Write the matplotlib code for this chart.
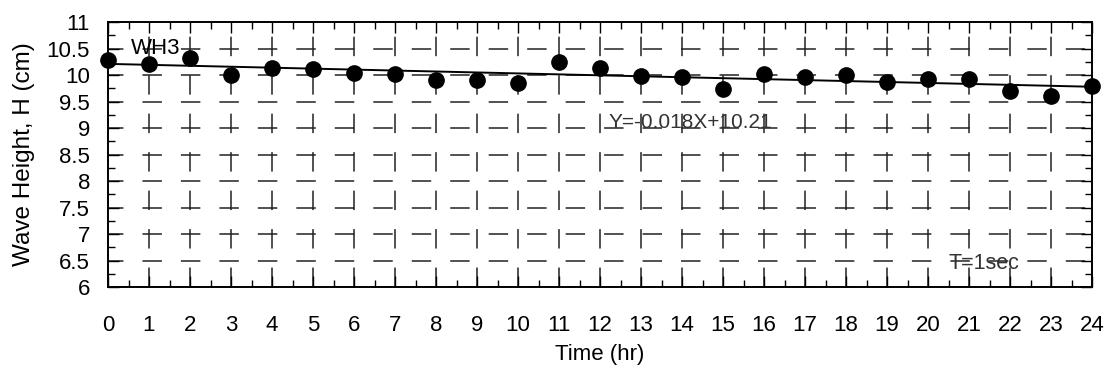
import numpy as np
import matplotlib
matplotlib.use("Agg")
import matplotlib.pyplot as plt
from matplotlib.ticker import MultipleLocator

plt.rcParams['font.family'] = ['Liberation Sans', 'DejaVu Sans']
plt.rcParams['lines.scale_dashes'] = False

# hourly wave height readings (cm)
hours = list(range(25))
height = [10.28, 10.20, 10.33, 10.00, 10.13, 10.11, 10.03, 10.02, 9.91, 9.91,
          9.84, 10.25, 10.13, 9.98, 9.96, 9.73, 10.02, 9.96, 10.00, 9.86,
          9.92, 9.92, 9.70, 9.60, 9.80]

# trend line coefficients
slope = -0.018
intercept = 10.21

fig = plt.figure(figsize=(11.16, 3.72), dpi=100)
ax = fig.add_axes([108 / 1116, 1 - 287 / 372, (1092 - 108) / 1116, (287 - 22) / 372])

x = np.array(hours)
ax.plot(x, slope * x + intercept, color='black', lw=1.4, zorder=3)
ax.plot(hours, height, 'o', color='black', ms=11, clip_on=False, zorder=4)

ax.set_xlim(0, 24)
ax.set_ylim(6, 11)
ax.xaxis.set_major_locator(MultipleLocator(1))
ax.xaxis.set_minor_locator(MultipleLocator(0.5))
ax.yaxis.set_minor_locator(MultipleLocator(0.25))
ax.set_yticks(np.arange(6, 11.01, 0.5))
ax.set_yticklabels(['6', '6.5', '7', '7.5', '8', '8.5', '9', '9.5', '10', '10.5', '11'])

# dashed grid: same dash length both ways, different phase
ax.xaxis.grid(True, which='major', color='#222222', lw=1.1, linestyle=(0, (14.0, 13.7)))
ax.yaxis.grid(True, which='major', color='#222222', lw=1.1, linestyle=(2.9, (14.0, 13.7)))

ax.tick_params(which='both', direction='in', top=True, right=True, labelsize=16, colors='black')
ax.tick_params(which='major', length=8, width=1)
ax.tick_params(which='minor', length=5, width=1)
ax.tick_params(axis='x', which='major', pad=20)
ax.tick_params(axis='y', which='major', pad=13)
for s in ax.spines.values():
    s.set_linewidth(1.4)

ax.set_xlabel('Time (hr)', fontsize=16, labelpad=6)
ax.set_ylabel('Wave Height, H (cm)', fontsize=17.5, labelpad=8)

ax.text(0.55, 10.5, 'WH3', fontsize=16, va='center', ha='left')
ax.text(12.2, 9.11, 'Y=-0.018X+10.21', fontsize=15, va='center', ha='left', color='#333333')
ax.text(20.5, 6.45, 'T=1sec', fontsize=15.5, va='center', ha='left', color='#333333')

fig.savefig('out.png', dpi=100)
